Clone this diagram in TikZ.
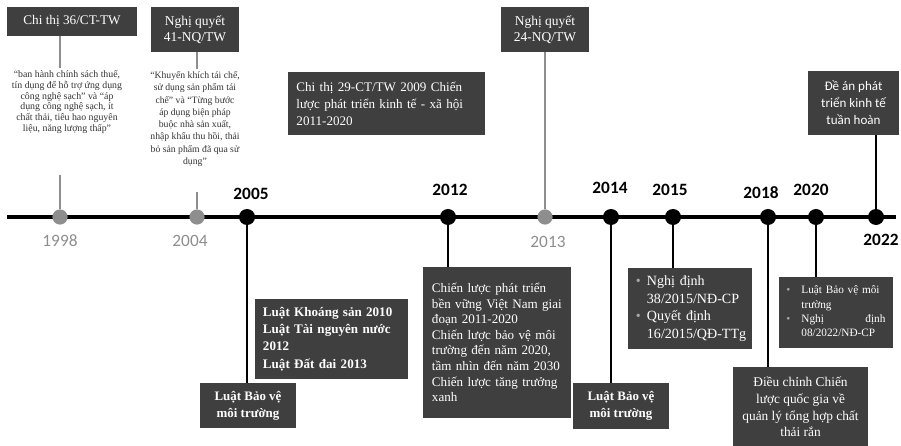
\documentclass[tikz,border=0pt]{standalone}
\usepackage{fontspec}
\setmainfont{Liberation Serif}
\newfontfamily\calibri{Carlito}
\definecolor{boxgrey}{HTML}{3F3F3F}
\definecolor{pastgrey}{HTML}{8E8E8E}
\definecolor{quotegrey}{HTML}{333333}
\newcommand{\dotmark}{\textcolor{white!65!black}{\textbullet}}

\begin{document}
\begin{tikzpicture}[x=0.025cm,y=-0.025cm,
  dark box/.style={fill=boxgrey,text=white,inner sep=0pt},
  year/.style={font=\calibri\bfseries\fontsize{12.3}{13}\selectfont,inner sep=1pt},
  old year/.style={font=\calibri\fontsize{12.3}{13}\selectfont,text=pastgrey,inner sep=1pt},
  dot/.style={circle,fill=black,minimum size=0.4cm,inner sep=0pt},
  old dot/.style={circle,fill=pastgrey,minimum size=0.38cm,inner sep=0pt},
  stem/.style={line width=1.8pt},
  old stem/.style={line width=1.4pt,pastgrey},
  quote/.style={text=quotegrey,align=center,inner sep=0pt}]

  \useasboundingbox (0,0) rectangle (901,446);

  % boxes above the line
  \node[dark box, minimum width=3.25cm, minimum height=0.725cm, font=\fontsize{9.4}{11}\selectfont] (ct36) at (72,21.5) {Chi thị 36/CT-TW};
  \node[dark box, minimum width=2.2cm, minimum height=1.125cm, align=center, font=\fontsize{9.6}{11.4}\selectfont] (nq41) at (195,29.5) {Nghị quyết\\41-NQ/TW};
  \node[dark box, minimum width=4.925cm, minimum height=1.575cm, text width=4.5cm, align=left, font=\fontsize{9.3}{12}\selectfont] (ct29) at (386.5,103.5) {Chi thị 29-CT/TW 2009 Chiến\\lược phát triển kinh tế - xã hội\\2011-2020};
  \node[dark box, minimum width=2.2cm, minimum height=1.125cm, align=center, font=\fontsize{9.6}{11.4}\selectfont] (nq24) at (545,29.5) {Nghị quyết\\24-NQ/TW};
  \node[dark box, minimum width=2.275cm, minimum height=1.6cm, align=center, font=\calibri\fontsize{9.3}{12}\selectfont] (dean) at (853.5,103) {Đề án phát\\triển kinh tế\\tuần hoàn};

  \node[quote, font=\fontsize{7}{7.6}\selectfont] (qa) at (67,102) {“ban hành chính sách thuế,\\tín dụng để hỗ trợ ứng dụng\\công nghệ sạch” và “áp\\dụng công nghệ sạch, ít\\chất thải, tiêu hao nguyên\\liệu, năng lượng thấp”};
  \node[quote, font=\fontsize{6.9}{8.7}\selectfont] (qb) at (195,119) {“Khuyến khích tái chế,\\sử dụng sản phẩm tái\\chế” và “Từng bước\\áp dụng biện pháp\\buộc nhà sản xuất,\\nhập khẩu thu hồi, thải\\bỏ sản phẩm đã qua sử\\dụng”};

  % boxes below the line
  \node[dark box, minimum width=3.825cm, minimum height=2cm, text width=3.425cm, align=left, font=\bfseries\fontsize{9.3}{12.3}\selectfont] (luatks) at (331.5,339) {Luật Khoáng sản 2010\\Luật Tài nguyên nước\\2012\\Luật Đất đai 2013};
  \node[dark box, minimum width=2.4cm, minimum height=1.125cm, align=center, font=\bfseries\fontsize{9.2}{12}\selectfont] (lbv05) at (248,405.5) {Luật Bảo vệ\\môi trường};
  \node[dark box, minimum width=3.7cm, minimum height=3.775cm, text width=3.25cm, align=left, font=\fontsize{9.3}{11.1}\selectfont] (cl12) at (497,342.5) {Chiến lược phát triển\\bền vững Việt Nam giai\\đoạn 2011-2020\\Chiến lược bảo vệ môi\\trường đến năm 2020,\\tầm nhìn đến năm 2030\\Chiến lược tăng trưởng\\xanh};
  \node[dark box, minimum width=2.4cm, minimum height=1.15cm, align=center, font=\bfseries\fontsize{9.2}{12}\selectfont] (lbv14) at (621,406) {Luật Bảo vệ\\môi trường};
  \node[dark box, minimum width=3.1cm, minimum height=2.025cm, text width=2.7cm, align=left, font=\fontsize{10}{12.4}\selectfont] (nd15) at (690,308.5) {%
    \begin{tabular}{@{}p{7.8pt}@{}l@{}}
      \dotmark & Nghị định\\ & 38/2015/NĐ-CP\\
      \dotmark & Quyết định\\ & 16/2015/QĐ-TTg
    \end{tabular}};
  \node[dark box, minimum width=2.85cm, minimum height=1.775cm, text width=2.48cm, align=left, font=\fontsize{8}{10.2}\selectfont] (nd20) at (836,312.5) {%
    \begin{tabular}{@{}p{10.7pt}@{}p{2.1cm}@{}}
      \dotmark & Luật Bảo vệ môi\\ & trường\\
      \dotmark & Nghị\hfill định\\ & 08/2022/NĐ-CP
    \end{tabular}};
  \node[dark box, minimum width=3.375cm, minimum height=2cm, align=center, font=\fontsize{9.5}{11.8}\selectfont] (dc18) at (800.5,407) {Điều chỉnh Chiến\\lược quốc gia về\\quản lý tổng hợp chất\\thải rắn};

  % timeline
  \coordinate (start) at (7,217);
  \coordinate (end) at (896,217);
  \coordinate (t1998) at (60,175);
  \coordinate (t2004) at (197,192);
  \draw[line width=2.8pt] (start) -- (end);

  \node[old dot] (d1998) at (60,217) {};
  \node[old dot] (d2004) at (197,217) {};
  \node[dot] (d2005) at (247,217) {};
  \node[dot] (d2012) at (448,217) {};
  \node[old dot] (d2013) at (545,217) {};
  \node[dot] (d2014) at (611,217) {};
  \node[dot] (d2015) at (673,217) {};
  \node[dot] (d2018) at (768,217) {};
  \node[dot] (d2020) at (816,217) {};
  \node[dot] (d2022) at (876,217) {};

  \node[old year] (y1998) at (60,241) {1998};
  \node[old year] (y2004) at (190,241) {2004};
  \node[year] (y2005) at (251,194) {2005};
  \node[year] (y2012) at (450,190) {2012};
  \node[old year] (y2013) at (548,242) {2013};
  \node[year] (y2014) at (610,188) {2014};
  \node[year] (y2015) at (670,190) {2015};
  \node[year] (y2018) at (761,193) {2018};
  \node[year] (y2020) at (811,190) {2020};
  \node[year] (y2022) at (881,240) {2022};

  % stems
  \draw[old stem] (ct36.south -| d1998) -- ([yshift=2pt]qa.north -| d1998);
  \draw[old stem] (t1998) -- (d1998);
  \draw[old stem] (nq41.south -| d2004) -- ([yshift=2pt]qb.north -| d2004);
  \draw[old stem] (t2004) -- (d2004);
  \draw[old stem] (nq24.south -| d2013) -- (d2013);
  \draw[stem] (d2005) -- (d2005 |- lbv05.north);
  \draw[stem] (d2012) -- (d2012 |- cl12.north);
  \draw[stem] (d2014) -- (d2014 |- lbv14.north);
  \draw[stem] (d2015) -- (d2015 |- nd15.north);
  \draw[stem] (d2018) -- (d2018 |- dc18.north);
  \draw[stem] (d2020) -- (d2020 |- nd20.north);
  \draw[stem] (d2022) -- (d2022 |- dean.south);
\end{tikzpicture}
\end{document}
